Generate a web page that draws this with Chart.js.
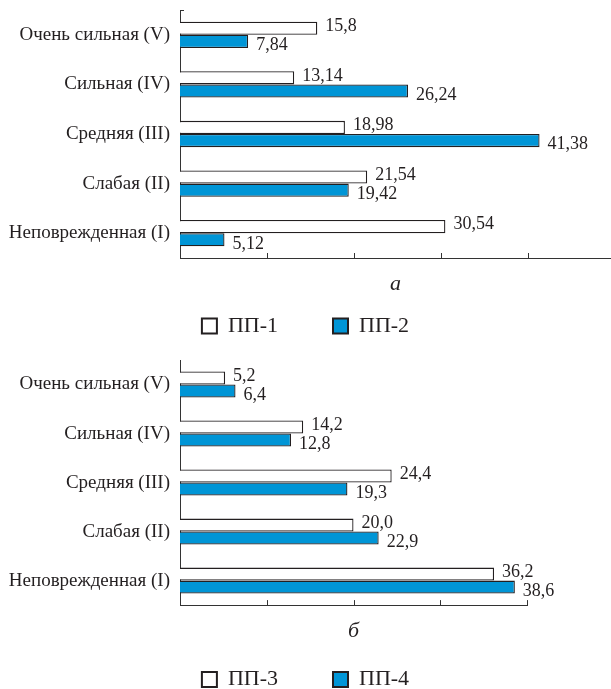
<!DOCTYPE html>
<html>
<head>
<meta charset="utf-8">
<script src="https://cdn.jsdelivr.net/npm/chart.js@4.4.0/dist/chart.umd.min.js"></script>
<style>
html, body { margin: 0; padding: 0; background: #fff; overflow: hidden; }
.box { position: absolute; left: 0; width: 611px; }
#boxA { top: 0; height: 346px; }
#boxB { top: 345px; height: 354px; }
</style>
</head>
<body>
<div class="box" id="boxA"><canvas id="chartA"></canvas></div>
<div class="box" id="boxB"><canvas id="chartB"></canvas></div>
<script>
// data
var categories = ["Очень сильная (V)", "Сильная (IV)", "Средняя (III)", "Слабая (II)", "Неповрежденная (I)"];
var pp1 = [15.8, 13.14, 18.98, 21.54, 30.54];
var pp2 = [7.84, 26.24, 41.38, 19.42, 5.12];
var pp3 = [5.2, 14.2, 24.4, 20.0, 36.2];
var pp4 = [6.4, 12.8, 19.3, 22.9, 38.6];
var seriesA = ["ПП-1", "ПП-2"];
var seriesB = ["ПП-3", "ПП-4"];
var axisTicks = [10, 20, 30, 40];

var ink = "#231f20";
var blue = "#0095d6";
var serif = "'Liberation Serif', 'Times New Roman', serif";

// numbers next to the bars
var valueLabels = {
    id: "valueLabels",
    afterDatasetsDraw: function(chart, args, opts) {
        var ctx = chart.ctx;
        ctx.save();
        ctx.font = "18px " + serif;
        ctx.fillStyle = ink;
        ctx.textAlign = "left";
        ctx.textBaseline = "middle";
        chart.data.datasets.forEach(function(ds, i) {
            var meta = chart.getDatasetMeta(i);
            meta.data.forEach(function(bar, j) {
                var v = ds.data[j];
                var txt = opts.decimals == null ? String(v) : v.toFixed(opts.decimals);
                ctx.fillText(txt.replace(".", ","), bar.x + 8, bar.y + (i === 0 ? -2 : 4));
            });
        });
        ctx.restore();
    }
};

// short tick marks pointing inward from the value axis
var axisMarks = {
    id: "axisMarks",
    afterDraw: function(chart, args, opts) {
        var x = chart.scales.x;
        var area = chart.chartArea;
        var ctx = chart.ctx;
        ctx.save();
        ctx.strokeStyle = "#333";
        ctx.lineWidth = 1;
        axisTicks.forEach(function(v) {
            var px = Math.round(x.getPixelForValue(v)) + 0.5;
            ctx.beginPath();
            ctx.moveTo(px, area.bottom);
            ctx.lineTo(px, area.bottom - 5);
            ctx.stroke();
        });
        if (opts.topTick) {
            ctx.beginPath();
            ctx.moveTo(area.left, Math.round(area.top) + 0.5);
            ctx.lineTo(area.left + 4, Math.round(area.top) + 0.5);
            ctx.stroke();
        }
        ctx.restore();
    }
};

function legendLabels(chart) {
    var items = Chart.defaults.plugins.legend.labels.generateLabels(chart);
    items.forEach(function(it) { it.lineWidth = 2; it.strokeStyle = ink; });
    // empty spacer item to widen the gap between the two entries
    var spacer = { text: "", fillStyle: "rgba(0,0,0,0)", strokeStyle: "rgba(0,0,0,0)", lineWidth: 0, hidden: false, datasetIndex: -1 };
    return [items[0], spacer, items[1]];
}

function makeChart(id, names, a, b, opt) {
    var scales = {
        x: {
            type: "linear",
            min: 0,
            max: opt.max,
            ticks: { display: false },
            grid: { display: false, drawTicks: false },
            border: { color: "#333", width: 1 },
            title: {
                display: true,
                text: opt.letter,
                color: ink,
                font: { family: serif, size: 22, style: "italic" },
                padding: { top: opt.titleTop, bottom: opt.titleBottom }
            }
        },
        y: {
            type: "category",
            position: "left",
            ticks: { color: ink, font: { family: serif, size: 19 }, padding: 10 },
            grid: { display: false, drawTicks: false },
            border: { color: "#333", width: 1 },
            afterFit: function(scale) {
                scale.width = 180;
                scale.paddingTop = 0;
                scale.paddingBottom = 0;
            }
        }
    };
    if (opt.rightGap) {
        scales.yRight = {
            type: "category",
            position: "right",
            ticks: { display: false },
            grid: { display: false, drawTicks: false },
            border: { display: false },
            afterFit: function(scale) { scale.width = opt.rightGap; }
        };
    }
    return new Chart(document.getElementById(id), {
        type: "bar",
        data: {
            labels: categories,
            datasets: [
                { label: names[0], data: a, backgroundColor: "#ffffff", borderColor: ink, borderWidth: 1.3 },
                { label: names[1], data: b, backgroundColor: blue, borderColor: ink, borderWidth: 1.3 }
            ]
        },
        options: {
            indexAxis: "y",
            responsive: true,
            maintainAspectRatio: false,
            animation: false,
            categoryPercentage: 0.53,
            barPercentage: 1,
            layout: { padding: { top: opt.padTop, bottom: opt.padBottom, left: 0, right: 0 } },
            scales: scales,
            plugins: {
                tooltip: { enabled: false },
                legend: {
                    position: "bottom",
                    maxHeight: 45,
                    labels: {
                        color: ink,
                        font: { family: serif, size: 22 },
                        boxWidth: 15,
                        boxHeight: 15,
                        padding: 14.5,
                        generateLabels: legendLabels
                    }
                },
                valueLabels: { decimals: opt.decimals },
                axisMarks: { topTick: opt.topTick }
            }
        },
        plugins: [valueLabels, axisMarks]
    });
}

makeChart("chartA", seriesA, pp1, pp2, {
    max: 49.6, letter: "а", padTop: 10, padBottom: 0.6, titleTop: 13, titleBottom: 3, decimals: null, topTick: true
});
makeChart("chartB", seriesB, pp3, pp4, {
    max: 40, letter: "б", padTop: 15, padBottom: 0, titleTop: 13, titleBottom: 9.5, decimals: 1, topTick: false, rightGap: 84
});
</script>
</body>
</html>
